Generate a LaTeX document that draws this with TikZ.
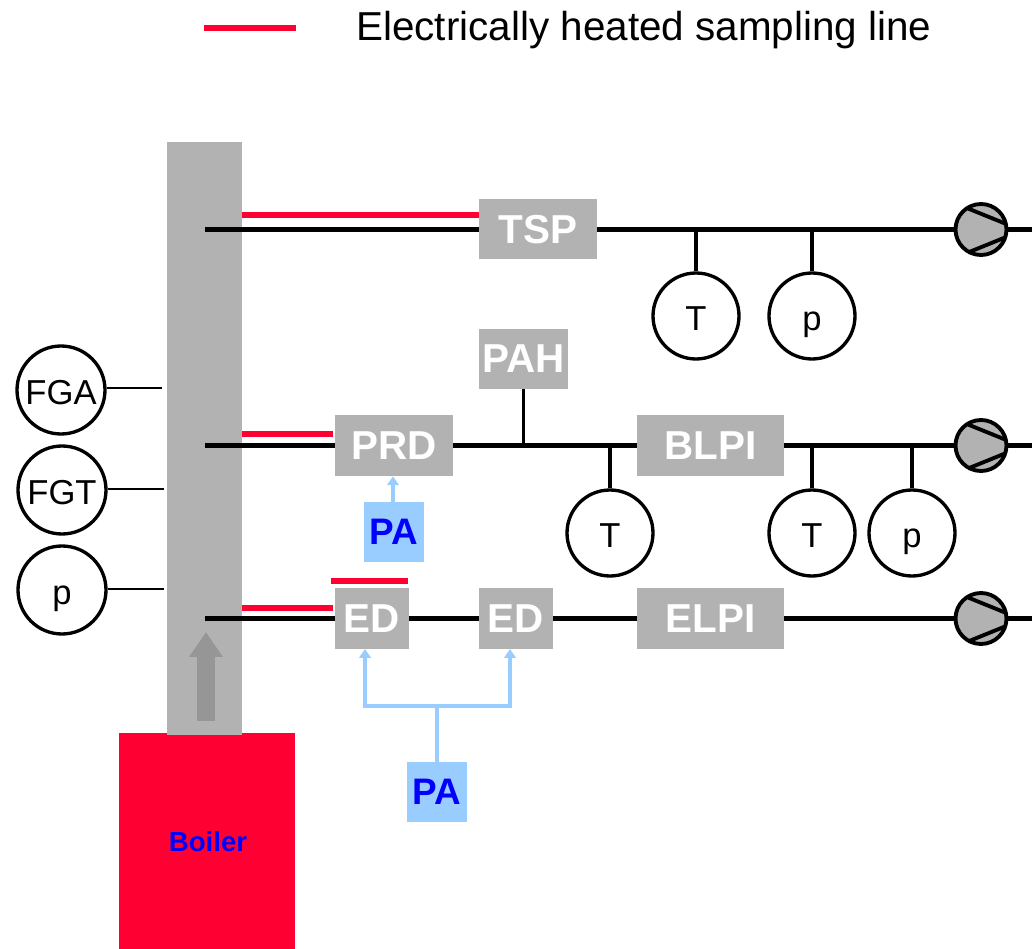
\documentclass[tikz,border=0pt]{standalone}
\usepackage{fontspec}
\setmainfont{Liberation Sans}
\usepackage{xcolor}
\usetikzlibrary{arrows.meta,calc}
\definecolor{boilerred}{HTML}{FF0033}
\definecolor{unitgray}{HTML}{B2B2B2}
\definecolor{flowgray}{HTML}{969696}
\definecolor{airblue}{HTML}{99CCFF}
\tikzset{
  unit/.style={fill=unitgray,inner sep=0pt,text=white,font=\fontsize{23}{23}\selectfont\bfseries},
  air/.style={fill=airblue,inner sep=0pt,minimum width=60*0.02cm,minimum height=60*0.02cm,text=blue,font=\fontsize{21}{21}\selectfont\bfseries},
  probe/.style={circle,draw=black,line width=1.9pt,fill=white,inner sep=0pt,text height=16pt,text depth=0pt,font=\fontsize{19.7}{20}\selectfont},
  pump/.style={circle,draw=black,line width=2.2pt,fill=unitgray,inner sep=0pt,minimum size=51*0.02cm},
  pump marks/.style={line width=2.2pt,black},
  sampling/.style={line width=2.8pt,black},
  probe line/.style={line width=2.2pt,black},
  heated/.style={line width=3.3pt,boilerred},
  thin line/.style={line width=1.4pt,black},
  airline/.style={line width=2pt,airblue},
  airarrow/.style={airline,-{Triangle[length=5pt,width=6.5pt]}}
}
\begin{document}
\begin{tikzpicture}[x=0.02cm,y=-0.02cm]
    \useasboundingbox (0,0) rectangle (1032,949);

    % legend
    \coordinate (legendl) at (204,28);
    \coordinate (legendr) at (296,28);
    \draw[heated] (legendl) -- (legendr);
    \node[anchor=west,inner sep=0pt,font=\fontsize{23}{23}\selectfont] (legend) at (356,30) {Electrically heated sampling line};

    % boiler and stack
    \node[fill=boilerred,inner sep=0pt,minimum width=176*0.02cm,minimum height=216*0.02cm] (boiler) at (207,841) {};
    \node[text=blue,inner sep=0pt,font=\fontsize{15.7}{16}\selectfont\bfseries] (boilertxt) at (208,842) {Boiler};
    \node[fill=unitgray,inner sep=0pt,minimum width=75*0.02cm,minimum height=593*0.02cm] (stack) at (204.5,438.5) {};
    \coordinate (flowa) at (206,721);
    \coordinate (flowb) at (206,632);
    \draw[line width=18*0.02cm,flowgray,-{Triangle[length=25*0.02cm,width=32*0.02cm]}] (flowa) -- (flowb);

    % units
    \node[unit,minimum width=118*0.02cm,minimum height=60*0.02cm] (tsp) at (538,229.5) {TSP};
    \node[unit,minimum width=89*0.02cm,minimum height=60*0.02cm] (pah) at (523.5,359) {PAH};
    \node[unit,minimum width=118*0.02cm,minimum height=61*0.02cm] (prd) at (394,445.5) {PRD};
    \node[unit,minimum width=147*0.02cm,minimum height=61*0.02cm] (blpi) at (710.5,445.5) {BLPI};
    \node[unit,minimum width=74*0.02cm,minimum height=61*0.02cm] (eda) at (372,618.5) {ED};
    \node[unit,minimum width=74*0.02cm,minimum height=61*0.02cm] (edb) at (516,618.5) {ED};
    \node[unit,minimum width=147*0.02cm,minimum height=61*0.02cm] (elpi) at (710.5,618.5) {ELPI};
    \node[air] (paa) at (394,532) {PA};
    \node[air] (pab) at (437,792) {PA};

    % pumps
    \foreach \name/\y in {pumpa/229.5,pumpb/445.5,pumpc/618.5}
    {
      \coordinate (\name s) at (205,\y);
      \coordinate (\name e) at (1032,\y);
      \node[pump] (\name) at (981,\y) {};
      \draw[pump marks] (\name.center) ++(-13,-21) coordinate (\name a) -- ++(37,15) coordinate (\name b);
      \draw[pump marks] (\name.center) ++(-13,23) coordinate (\name c) -- ++(37,-15) coordinate (\name d);
    }

    % sampling lines
    \begin{scope}[sampling]
      \draw (pumpas) -- (tsp);
      \draw (tsp) -- (pumpa);
      \draw (pumpa) -- (pumpae);
      \draw (pumpbs) -- (prd);
      \draw (prd) -- (blpi);
      \draw (blpi) -- (pumpb);
      \draw (pumpb) -- (pumpbe);
      \draw (pumpcs) -- (eda);
      \draw (eda) -- (edb);
      \draw (edb) -- (elpi);
      \draw (elpi) -- (pumpc);
      \draw (pumpc) -- (pumpce);
    \end{scope}

    % heated parts
    \foreach \a/\ay/\b in {242/215/479,242/434/333,242/608/333,331/581/408}
    {
      \coordinate (h\a\ay) at (\a,\ay);
      \coordinate (k\a\ay) at (\b,\ay);
      \draw[heated] (h\a\ay) -- (k\a\ay);
    }

    % probes
    \node[probe,minimum size=86*0.02cm] (ta) at (696,316) {T};
    \node[probe,minimum size=86*0.02cm] (pa) at (812,316) {p};
    \node[probe,minimum size=86*0.02cm] (tb) at (610,533) {T};
    \node[probe,minimum size=86*0.02cm] (tc) at (812,533) {T};
    \node[probe,minimum size=86*0.02cm] (pb) at (912,533) {p};
    \node[probe,minimum size=88*0.02cm] (fga) at (61,390) {FGA};
    \node[probe,minimum size=88*0.02cm] (fgt) at (62,490) {FGT};
    \node[probe,minimum size=88*0.02cm] (ps) at (62,590) {p};

    \foreach \name/\x/\y in {ta/696/229.5,pa/812/229.5,tb/610/445.5,tc/812/445.5,pb/912/445.5}
      \draw[probe line] (\name.north) -- (\x,\y) coordinate (\name top);
    \draw[probe line] (pah.south) -- (523.5,445.5) coordinate (pahbase);

    \coordinate (fgaend) at (162,388);
    \coordinate (fgtend) at (164,489);
    \coordinate (psend) at (164,589);
    \draw[thin line] (fga.east |- fgaend) -- (fgaend);
    \draw[thin line] (fgt.east |- fgtend) -- (fgtend);
    \draw[thin line] (ps.east |- psend) -- (psend);

    % purge air
    \draw[airarrow] (paa.north -| 393,0) -- (prd.south -| 393,0);
    \coordinate (split) at (437,706);
    \draw[airline] (pab.north) -- (split);
    \draw[airarrow] (split) -| (365,649) coordinate (edatip);
    \draw[airarrow] (split) -| (510,649) coordinate (edbtip);

\end{tikzpicture}
\end{document}
